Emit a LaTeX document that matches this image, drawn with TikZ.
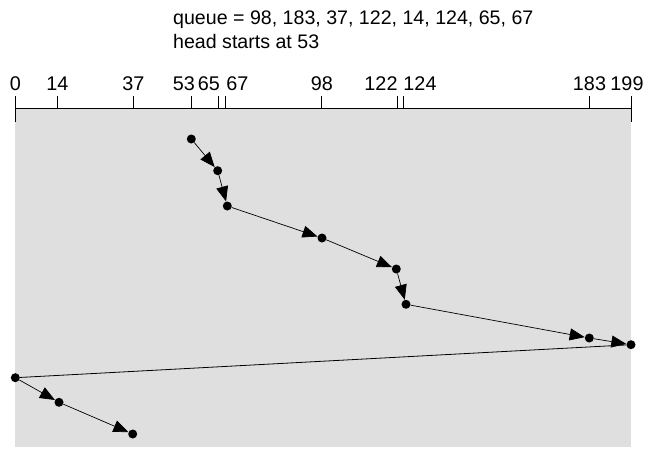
\documentclass[tikz,border=0pt]{standalone}
\usepackage{fontspec}
\setmainfont{Liberation Sans}
\usetikzlibrary{arrows.meta}
\begin{document}
\begin{tikzpicture}[x=1pt,y=-1pt,
  dot/.style={circle,fill=black,inner sep=0pt,minimum size=9pt},
  seek/.style={line width=0.7pt,-{Triangle[length=15pt,width=12pt]}},
  ret/.style={line width=0.8pt},
  ticklbl/.style={anchor=base,inner sep=0pt,font=\fontsize{19.8}{22}\selectfont},
  title/.style={anchor=base west,inner sep=0pt,font=\fontsize{19.6}{24}\selectfont},
  axisline/.style={line width=1pt}]
\useasboundingbox (0,0) rectangle (654,458);
\fill[fill={rgb,255:red,223;green,223;blue,223}] (15.3,108.3) rectangle (631.3,446.7);
% title
\node[title] (t1) at (173,24.5) {queue = 98, 183, 37, 122, 14, 124, 65, 67};
\node[title] (t2) at (173,48.3) {head starts at 53};
% axis
\draw[axisline] (15.3,108.3) -- (631.3,108.3);
\draw[axisline] (15.3,96) -- (15.3,121.7);
\draw[axisline] (631.3,96) -- (631.3,121.7);
\foreach \x in {57.7,133.3,191.3,218.3,225.7,321.7,397.7,403,589.3}
  \draw[axisline] (\x,96) -- (\x,108.3);
% tick labels
\node[ticklbl] (l0) at (15.3,90) {0};
\node[ticklbl] (l14) at (57.5,90) {14};
\node[ticklbl] (l37) at (133.3,90) {37};
\node[ticklbl] (l53) at (183.8,90) {53};
\node[ticklbl] (l65) at (208.8,90) {65};
\node[ticklbl] (l67) at (237.5,90) {67};
\node[ticklbl] (l98) at (322,90) {98};
\node[ticklbl] (l122) at (381,90) {122};
\node[ticklbl] (l124) at (420,90) {124};
\node[ticklbl] (l183) at (589.5,90) {183};
\node[ticklbl] (l199) at (627,90) {199};
% head positions
\node[dot] (p53) at (191.3,139) {};
\node[dot] (p65) at (217.7,170.7) {};
\node[dot] (p67) at (227.3,206) {};
\node[dot] (p98) at (322,238) {};
\node[dot] (p122) at (396.3,269) {};
\node[dot] (p124) at (406,304.3) {};
\node[dot] (p183) at (589.3,338) {};
\node[dot] (p199) at (631,344.7) {};
\node[dot] (p0) at (15.3,377.7) {};
\node[dot] (p14) at (59,402.3) {};
\node[dot] (p37) at (132.7,434) {};
% seeks
\draw[seek] (p53) -- (p65);
\draw[seek] (p65) -- (p67);
\draw[seek] (p67) -- (p98);
\draw[seek] (p98) -- (p122);
\draw[seek] (p122) -- (p124);
\draw[seek] (p124) -- (p183);
\draw[seek] (p183) -- (p199);
\draw[ret] (p199) -- (p0);
\draw[seek] (p0) -- (p14);
\draw[seek] (p14) -- (p37);
\end{tikzpicture}
\end{document}
